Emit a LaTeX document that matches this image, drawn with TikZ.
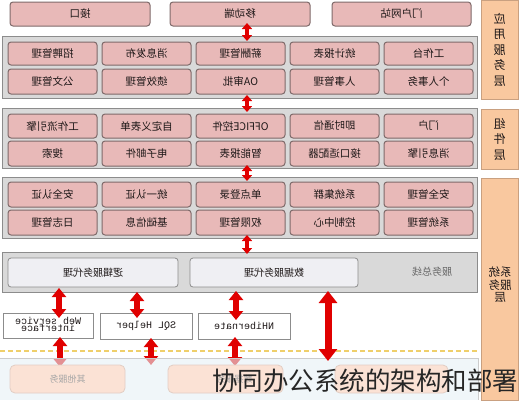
\documentclass[tikz,border=0pt]{standalone}
\usepackage{fontspec}
\usepackage{graphicx}
\setmainfont{Noto Sans CJK SC}
\newfontfamily\monof{Liberation Mono}
\usetikzlibrary{arrows.meta}
\definecolor{boxpink}{HTML}{E8B9B8}
\definecolor{boxedge}{HTML}{7F6A6A}
\definecolor{layergrey}{HTML}{D9D9D9}
\definecolor{layeredge}{HTML}{8C8C8C}
\definecolor{labelorange}{HTML}{F9C89F}
\definecolor{labeledge}{HTML}{C9A080}
\definecolor{arrowred}{HTML}{E00000}
\definecolor{dashyellow}{HTML}{EFCF6A}
\definecolor{bottomblue}{HTML}{E6F0F5}
\definecolor{peach}{HTML}{FBE2D5}
\definecolor{proxyfill}{HTML}{EFEFF3}
\definecolor{txt}{HTML}{1E1818}
\newcommand\mir[1]{\reflectbox{#1}}
\newcommand\rbox[7]{\node[#2, minimum width={#5-#3}, minimum height={#6-#4}] (#1) at ({(#3+#5)/2},{(#4+#6)/2}) {#7};}
\tikzset{
  base/.style={inner sep=0pt, outer sep=0pt},
  cell/.style={base, draw=boxedge, line width=1pt, fill=boxpink, rounded corners=3pt, text=txt, font=\fontsize{10.5}{12}\selectfont},
  layer/.style={base, draw=layeredge, line width=1pt, fill=layergrey},
  lab/.style={base, draw=labeledge, line width=0.8pt, fill=labelorange, text=txt, font=\fontsize{12}{15.5}\selectfont, align=center},
  proxy/.style={base, draw=layeredge, line width=0.8pt, fill=proxyfill, rounded corners=3pt, text=txt, font=\fontsize{10}{12}\selectfont},
  wbox/.style={base, draw=layeredge, line width=0.8pt, fill=white, text=txt, font=\monof\fontsize{10}{10}\selectfont, align=center},
  pbox/.style={base, draw=peach!80!gray, line width=0.8pt, fill=peach, rounded corners=5pt, text=gray!70, font=\fontsize{9}{11}\selectfont},
  smallarr/.style={arrowred, line width=3.5pt, {Triangle[width=10pt,length=6pt]}-{Triangle[width=10pt,length=6pt]}},
  midarr/.style={arrowred, line width=5.5pt, {Triangle[width=14pt,length=9pt]}-{Triangle[width=14pt,length=9pt]}},
  bigarr/.style={arrowred, line width=7pt, {Triangle[width=18pt,length=12pt]}-{Triangle[width=18pt,length=12pt]}},
}
\begin{document}
\begin{tikzpicture}[x=1pt,y=-1pt]
\useasboundingbox (0,0) rectangle (519,400);
\fill[white] (0,0) rectangle (519,400);
% top row
\rbox{t1}{cell}{10}{2}{150}{26}{\mir{接口}}
\rbox{t2}{cell}{170}{2}{310}{26}{\mir{移动端}}
\rbox{t3}{cell}{332}{2}{471}{26}{\mir{门户网站}}
% layers
\rbox{L1}{layer}{2}{36}{477}{98}{}
\rbox{L2}{layer}{2}{108}{477}{168}{}
\rbox{L3}{layer}{2}{177}{477}{238}{}
% app layer cells
\rbox{a11}{cell}{8}{42}{97}{65}{\mir{招聘管理}}
\rbox{a12}{cell}{102}{42}{191}{65}{\mir{消息发布}}
\rbox{a13}{cell}{196}{42}{285}{65}{\mir{薪酬管理}}
\rbox{a14}{cell}{290}{42}{379}{65}{\mir{统计报表}}
\rbox{a15}{cell}{384}{42}{473}{65}{\mir{工作台}}
\rbox{a21}{cell}{8}{69}{97}{94}{\mir{公文管理}}
\rbox{a22}{cell}{102}{69}{191}{94}{\mir{绩效管理}}
\rbox{a23}{cell}{196}{69}{285}{94}{\mir{OA审批}}
\rbox{a24}{cell}{290}{69}{379}{94}{\mir{人事管理}}
\rbox{a25}{cell}{384}{69}{473}{94}{\mir{个人事务}}
% component layer cells
\rbox{c11}{cell}{8}{114}{97}{138}{\mir{工作流引擎}}
\rbox{c12}{cell}{102}{114}{191}{138}{\mir{自定义表单}}
\rbox{c13}{cell}{196}{114}{285}{138}{\mir{OFFICE控件}}
\rbox{c14}{cell}{290}{114}{379}{138}{\mir{即时通信}}
\rbox{c15}{cell}{384}{114}{473}{138}{\mir{门户}}
\rbox{c21}{cell}{8}{141}{97}{166}{\mir{搜索}}
\rbox{c22}{cell}{102}{141}{191}{166}{\mir{电子邮件}}
\rbox{c23}{cell}{196}{141}{285}{166}{\mir{智能报表}}
\rbox{c24}{cell}{290}{141}{379}{166}{\mir{接口适配器}}
\rbox{c25}{cell}{384}{141}{473}{166}{\mir{消息引擎}}
% system layer cells
\rbox{s11}{cell}{8}{182}{97}{207}{\mir{安全认证}}
\rbox{s12}{cell}{102}{182}{191}{207}{\mir{统一认证}}
\rbox{s13}{cell}{196}{182}{285}{207}{\mir{单点登录}}
\rbox{s14}{cell}{290}{182}{379}{207}{\mir{系统集群}}
\rbox{s15}{cell}{384}{182}{473}{207}{\mir{安全管理}}
\rbox{s21}{cell}{8}{210}{97}{235}{\mir{日志管理}}
\rbox{s22}{cell}{102}{210}{191}{235}{\mir{基础信息}}
\rbox{s23}{cell}{196}{210}{285}{235}{\mir{权限管理}}
\rbox{s24}{cell}{290}{210}{379}{235}{\mir{控制中心}}
\rbox{s25}{cell}{384}{210}{473}{235}{\mir{系统管理}}
% right labels
\rbox{R1}{lab}{481}{0}{518}{99}{\mir{应}\\\mir{用}\\\mir{服}\\\mir{务}\\\mir{层}}
\rbox{R2}{lab}{481}{109}{518}{169}{\mir{组}\\\mir{件}\\\mir{层}}
\rbox{R3}{lab}{481}{178}{518}{400}{}
\node[base, text=txt, font=\fontsize{11.5}{12.5}\selectfont, align=center] (R3t) at (500,285) {\mir{系统}\\\mir{服务}\\\mir{层}};
% service bus
\rbox{B}{layer}{2}{252}{477}{292}{}
\rbox{bl}{proxy}{8}{258}{178}{287}{\mir{逻辑服务代理}}
\rbox{bd}{proxy}{190}{258}{358}{287}{\mir{数据服务代理}}
\node[base, text=gray!80!black, font=\fontsize{10}{12}\selectfont] (bus) at (432,272) {\mir{服务总线}};
% white boxes
\rbox{w1}{wbox}{3}{313}{93}{338}{\mir{\begin{tabular}{@{}c@{}}Web service\\[-3pt]interface\end{tabular}}}
\rbox{w2}{wbox}{100}{313}{192}{339}{\mir{SQL Helper}}
\rbox{w3}{wbox}{198}{313}{290}{339}{\mir{NHibernate}}
% dashed line
\coordinate (dl) at (0,351);
\coordinate (dr) at (477,351);
\draw[dashyellow, line width=1.5pt, dash pattern=on 5pt off 3pt] (dl) -- (dr);
% arrow endpoints
\coordinate (a1a) at (247,23); \coordinate (a1b) at (247,41);
\coordinate (a2a) at (247,95); \coordinate (a2b) at (247,112);
\coordinate (a3a) at (247,165); \coordinate (a3b) at (247,181);
\coordinate (a4a) at (247,235); \coordinate (a4b) at (247,254);
\coordinate (b1a) at (59,288); \coordinate (b1b) at (59,318);
\coordinate (b2a) at (137,292); \coordinate (b2b) at (137,318);
\coordinate (b3a) at (236,291); \coordinate (b3b) at (236,320);
\coordinate (c1a) at (60,337); \coordinate (c1b) at (60,367);
\coordinate (c2a) at (151,338); \coordinate (c2b) at (151,365);
\coordinate (c3a) at (235,337); \coordinate (c3b) at (235,366);
\coordinate (ga) at (328,291); \coordinate (gb) at (328,361);
\draw[smallarr] (a1a) -- (a1b);
\draw[smallarr] (a2a) -- (a2b);
\draw[smallarr] (a3a) -- (a3b);
\draw[smallarr] (a4a) -- (a4b);
\draw[midarr] (b1a) -- (b1b);
\draw[midarr] (b2a) -- (b2b);
\draw[midarr] (b3a) -- (b3b);
\draw[midarr] (c1a) -- (c1b);
\draw[midarr] (c2a) -- (c2b);
\draw[midarr] (c3a) -- (c3b);
% bottom area
\fill[bottomblue, fill opacity=0.6] (0,358) rectangle (478,400);
\draw[gray!40, line width=0.8pt] (0,358) -- (478,358) -- (478,400);
\rbox{p1}{pbox}{10}{365}{125}{393}{\mir{其他服务}}
\rbox{p2}{pbox}{168}{365}{283}{393}{\hspace{18pt}\mir{数据服务}}
\rbox{p3}{pbox}{335}{365}{448}{393}{}
\draw[bigarr] (ga) -- (gb);
% caption
\node[base, text=black!85, font=\fontsize{25.5}{28}\selectfont, anchor=east] (cap) at (518,381) {协同办公系统的架构和部署};
\end{tikzpicture}
\end{document}
